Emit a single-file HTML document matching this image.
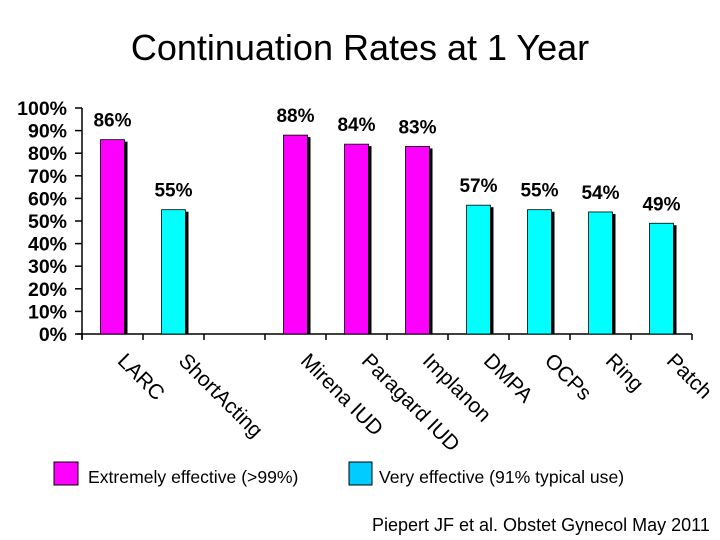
<!DOCTYPE html>
<html><head><meta charset="utf-8"><style>
body{margin:0;background:#fff;}
svg{display:block;font-family:"Liberation Sans",Arial,sans-serif;}
</style></head><body>
<svg id="chart" width="720" height="540" viewBox="0 0 720 540">
<text x="360" y="60" text-anchor="middle" font-size="36" font-family="Liberation Sans, sans-serif">Continuation Rates at 1 Year</text>
<g id="plot"></g>
<rect x="54" y="462" width="24" height="23" fill="#FF00FF" stroke="#000" stroke-width="1"/>
<text x="88" y="483" font-size="17.6">Extremely effective (&gt;99%)</text>
<rect x="349" y="462" width="23" height="23" fill="#00CCFF" stroke="#000" stroke-width="1"/>
<text x="379" y="483" font-size="17.6">Very effective (91% typical use)</text>
<text x="372" y="531" font-size="18">Piepert JF et al. Obstet Gynecol May 2011</text>
</svg>
<script>
const categories=["LARC","ShortActing","","Mirena IUD","Paragard IUD","Implanon","DMPA","OCPs","Ring","Patch"];
const values=[86,55,null,88,84,83,57,55,54,49];
const groups=["e","v",null,"e","e","e","v","v","v","v"];
const yTicks=[0,10,20,30,40,50,60,70,80,90,100];
const NS="http://www.w3.org/2000/svg";
const g=document.getElementById("plot");
const x0=82,slot=61,yBase=334,yTop=108;
const y=v=>yBase-(v/100)*(yBase-yTop);
const xc=i=>x0+slot*(i+0.5);
function mk(t,a){const e=document.createElementNS(NS,t);for(const k in a)e.setAttribute(k,a[k]);g.appendChild(e);return e;}
let ax=mk("line",{x1:x0,y1:yTop,x2:x0,y2:yBase+5,stroke:"#000","stroke-width":1.5});


let bx=mk("line",{x1:x0-5,y1:yBase,x2:x0+slot*categories.length,y2:yBase,stroke:"#000","stroke-width":1.5});


yTicks.forEach(t=>{
 let l=mk("line",{x1:x0-7,y1:y(t),x2:x0,y2:y(t),stroke:"#000","stroke-width":1.5});
 
 
 let tx=mk("text",{x:67,y:y(t)+7,"text-anchor":"end","font-size":19.5,"font-weight":"bold"});
 tx.textContent=t+"%";
 
 
});
for(let i=0;i<=categories.length;i++){
 let l=mk("line",{x1:x0+slot*i,y1:yBase,x2:x0+slot*i,y2:yBase+6,stroke:"#000","stroke-width":1.5});
 
 
}
categories.forEach((c,i)=>{
 if(c){
  let tx=mk("text",{x:0,y:0,"font-size":21,transform:`translate(${xc(i)+4},${yBase+28}) rotate(45)`});
  tx.textContent=c;
  
  
 }
 const v=values[i];
 if(v==null)return;
 const bw=24,bxp=xc(i)-12;
 let sh=mk("rect",{x:bxp+3,y:y(v)+2,width:bw,height:yBase-y(v)-2,fill:"#000"});
 
 
 let r=mk("rect",{x:bxp,y:y(v),width:bw,height:yBase-y(v),fill:groups[i]==="e"?"#FF00FF":"#00FFFF",stroke:"#000","stroke-width":0.8});
 
 
 let lb=mk("text",{x:xc(i),y:y(v)-13,"text-anchor":"middle","font-size":19,"font-weight":"bold"});
 lb.textContent=v+"%";
 
 
});
</script>
</body></html>
